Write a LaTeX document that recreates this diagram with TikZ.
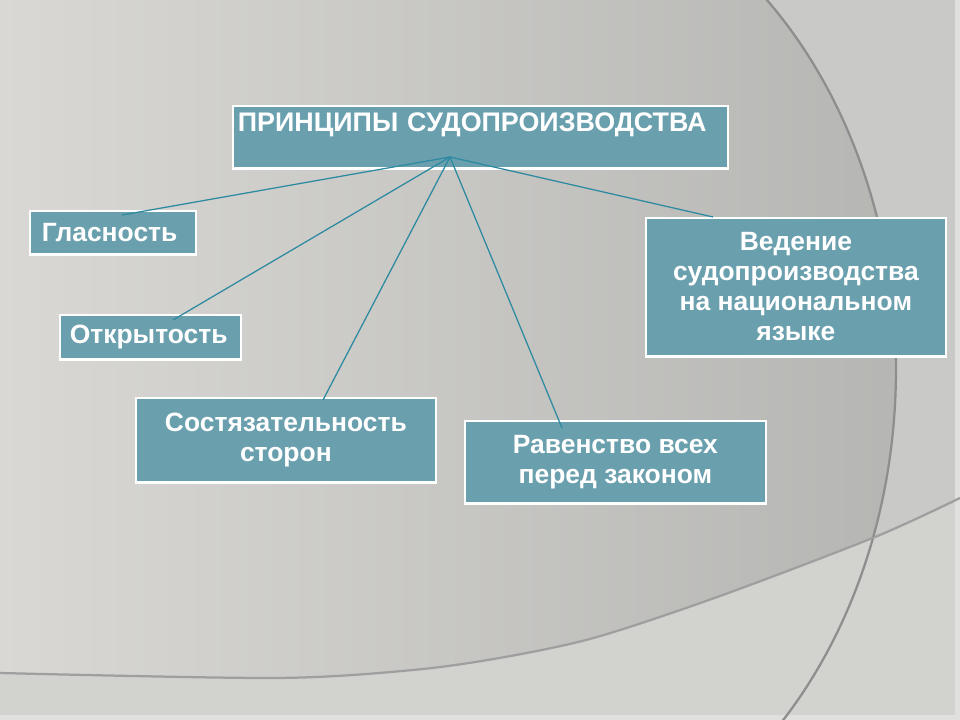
\documentclass[tikz,border=0pt]{standalone}
\usepackage{fontspec}
\setmainfont{Liberation Sans}
\usepackage{tikz}

\definecolor{boxteal}{HTML}{6A9FAE}
\definecolor{linkteal}{HTML}{2E8AA0}
\definecolor{bgleft}{HTML}{D9D8D4}
\definecolor{bgright}{HTML}{B3B3B1}
\definecolor{bgouter}{HTML}{C9C9C8}
\definecolor{bglow}{HTML}{D2D2CF}
\definecolor{bgedge}{HTML}{E0E0DE}
\definecolor{arcgray}{HTML}{8E8E8E}

\begin{document}
\begin{tikzpicture}[x=0.025cm,y=-0.025cm]

	\tikzset{
		principle/.style={
				draw=white, fill=boxteal, line width=1.2pt, text=white, inner sep=0pt, anchor=north west,
				preaction={draw=white, line width=1.2pt, transform canvas={yshift=-0.04cm}},
				font=\bfseries\fontsize{18.8pt}{21.3pt}\selectfont
			},
		link/.style={
				draw=linkteal, line width=0.9pt
			},
		curve/.style={
				draw=arcgray, line width=1.6pt
			},
	}

	\shade[left color=bgleft, right color=bgright] (0,0) rectangle (960,720);
	\useasboundingbox (0,0) rectangle (960,720);

	\fill[bgouter] (763.6,-3.8) arc[start angle=-48, end angle=46, x radius=400, y radius=503] -- (960,732) -- (960,-4) -- cycle;
	\fill[bglow] plot[smooth] coordinates {(0,673) (275,678) (413,670) (505,657) (597,637) (720,596) (875,537) (960,498)} -- (960,720) -- (0,720) -- cycle;
	\fill[bgedge] (955,0) rectangle (960,720);
	\fill[bgedge] (0,715) rectangle (960,720);

	\draw[curve] (763.6,-3.8) arc[start angle=-48, end angle=46, x radius=400, y radius=503];
	\draw[curve, draw=arcgray!85] plot[smooth] coordinates {(0,673) (275,678) (413,670) (505,657) (597,637) (720,596) (875,537) (960,498)};

	\node[principle, inner xsep=0.125cm, text width=12.125cm, align=left, text height=0.65cm, text depth=0.9cm,
		font=\bfseries\fontsize{19.1pt}{23pt}\selectfont](title) at (232,105){ПРИНЦИПЫ СУДОПРОИЗВОДСТВА};
	\node[principle, inner xsep=0.3cm, text width=3.55cm, minimum height=1.075cm, align=left](glas) at (29,210){Гласность};
	\node[principle, inner xsep=0.25cm, text width=4.025cm, minimum height=1.1cm, align=left](otkr) at (59,314){Открытость};
	\node[principle, minimum width=7.5cm, minimum height=2.1cm, align=center](sost) at (135,397){Состязательность\\сторон};
	\node[principle, minimum width=7.525cm, minimum height=2.05cm, align=center](rav) at (464,420){Равенство всех\\перед законом};
	\node[principle, minimum width=7.5cm, minimum height=3.45cm, align=center](ved) at (645,217){Ведение\\судопроизводства\\на национальном\\языке};

	\coordinate (hub) at ([shift={(218,52)}]title.north west);

	\draw[link] (hub) -- ([shift={(93,5)}]glas.north west);
	\draw[link] (hub) -- ([shift={(114,6)}]otkr.north west);
	\draw[link] (hub) -- ([shift={(188,3)}]sost.north west);
	\draw[link] (hub) -- ([shift={(98,8)}]rav.north west);
	\draw[link] (hub) -- ([shift={(68,0)}]ved.north west);

\end{tikzpicture}
\end{document}
